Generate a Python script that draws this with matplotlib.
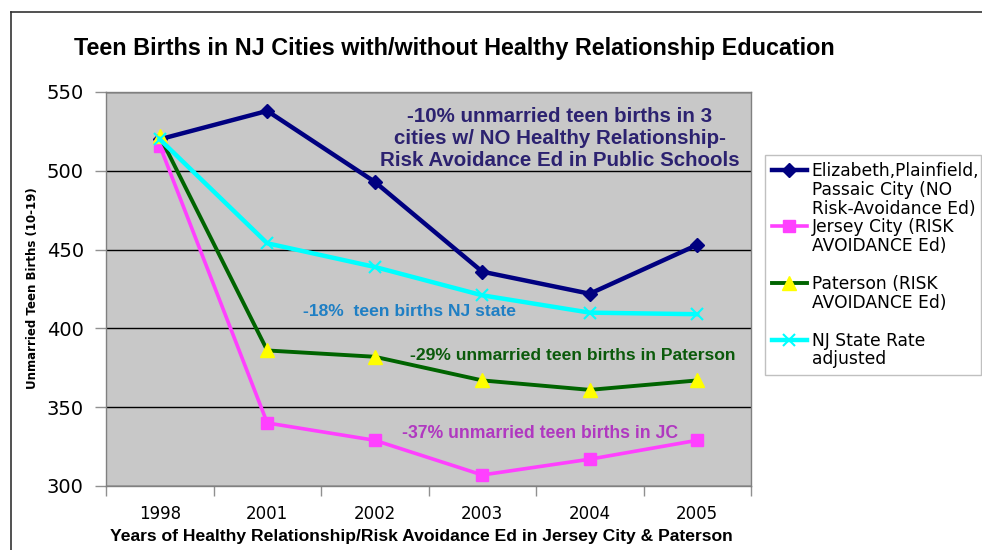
import matplotlib
matplotlib.use("Agg")
import matplotlib.pyplot as plt
from matplotlib.lines import Line2D
import numpy as np

years = ["1998", "2001", "2002", "2003", "2004", "2005"]
elizabeth = [520, 538, 493, 436, 422, 453]
jersey_city = [516, 340, 329, 307, 317, 329]
paterson = [522, 386, 382, 367, 361, 367]
nj_state = [520, 454, 439, 421, 410, 409]

yticks = [300, 350, 400, 450, 500, 550]

W, H = 982, 550
fig = plt.figure(figsize=(W / 100, H / 100), dpi=100)
ax = fig.add_axes([106 / W, 1 - 486 / H, (751 - 106) / W, (486 - 92) / H])
ax.set_facecolor("#C8C8C8")

x = np.arange(len(years))
l1, = ax.plot(x, elizabeth, color="#000080", lw=3.2, marker="D", ms=7,
              mfc="#000080", mec="#000080", zorder=3)
l2, = ax.plot(x, jersey_city, color="#FF40FF", lw=2.6, marker="s", ms=8,
              mfc="#FF40FF", mec="#FF40FF", zorder=3)
l3, = ax.plot(x, paterson, color="#006400", lw=2.8, marker="^", ms=9.5,
              mfc="#FFFF00", mec="#FFFF00", zorder=3)
l4, = ax.plot(x, nj_state, color="#00FFFF", lw=3.2, marker="x", ms=9,
              mew=1.5, mec="#00FFFF", zorder=3)

ax.set_xlim(-0.5, len(years) - 0.5)
ax.set_ylim(300, 550)
ax.set_yticks(yticks)
ax.set_yticklabels([str(v) for v in yticks], fontsize=14, family="DejaVu Sans")
ax.set_xticks(x)
ax.set_xticklabels(years, fontsize=12, family="DejaVu Sans")
ax.set_xticks(np.arange(-0.5, len(years)), minor=True)
ax.tick_params(axis="x", which="major", length=0, pad=14)
ax.tick_params(axis="x", which="minor", length=7, color="#909090", width=1)
ax.tick_params(axis="y", length=8, color="#909090", width=1, pad=8)
ax.grid(axis="y", color="#000000", lw=1, zorder=1)
ax.set_axisbelow(True)
for s in ax.spines.values():
    s.set_color("#808080")
    s.set_linewidth(1)

# annotations
ax.text(3.72, 520.5, "-10% unmarried teen births in 3\ncities w/ NO Healthy Relationship-\nRisk Avoidance Ed in Public Schools",
        ha="center", va="center", multialignment="center", fontsize=14.8,
        fontweight="bold", family="Liberation Sans", color="#2C2270", linespacing=1.2, zorder=5)
ax.text(1.33, 411, "-18%  teen births NJ state", ha="left", va="center", fontsize=12.6,
        fontweight="bold", family="Liberation Sans", color="#1F7FC4", zorder=5)
ax.text(2.33, 383, "-29% unmarried teen births in Paterson", ha="left", va="center", fontsize=12.6,
        fontweight="bold", family="Liberation Sans", color="#0B5A0B", zorder=5)
ax.text(2.25, 333, "-37% unmarried teen births in JC", ha="left", va="center", fontsize=12.7,
        fontweight="bold", family="Liberation Sans", color="#B038C0", zorder=5)

# title and axis labels
fig.text(74 / W, 1 - 48 / H, "Teen Births in NJ Cities with/without Healthy Relationship Education",
         ha="left", va="center", fontsize=16.8, fontweight="bold", family="Liberation Sans")
fig.text(421 / W, 1 - 536 / H, "Years of Healthy Relationship/Risk Avoidance Ed in Jersey City & Paterson",
         ha="center", va="center", fontsize=12.6, fontweight="bold", family="Liberation Sans")
fig.text(33 / W, 1 - 288 / H, "Unmarried Teen Births (10-19)", rotation=90,
         ha="center", va="center", fontsize=8.5, fontweight="bold", family="DejaVu Sans")

# legend
blank = Line2D([], [], linestyle="none")
handles = [l1, blank, blank, l2, blank, blank, l3, blank, blank, l4, blank]
labels = ["Elizabeth,Plainfield,", "Passaic City (NO", "Risk-Avoidance Ed)",
          "Jersey City (RISK", "AVOIDANCE Ed)", " ",
          "Paterson (RISK", "AVOIDANCE Ed)", " ",
          "NJ State Rate", "adjusted"]
leg = ax.legend(handles, labels, loc="upper left",
                bbox_to_anchor=(765 / W, 1 - 383 / H, 216 / W, 228 / H),
                bbox_transform=fig.transFigure, mode="expand", borderaxespad=0,
                prop={"family": "DejaVu Sans", "size": 12.3}, handlelength=2.05,
                handletextpad=0.28, borderpad=0.4, labelspacing=0.05,
                fancybox=False, framealpha=1, edgecolor="#C0C0C0", numpoints=1)
leg.get_frame().set_linewidth(1)

# outer frame
fig.add_artist(Line2D([11 / W, 11 / W], [0, 1 - 12 / H], transform=fig.transFigure, color="#333333", lw=1.2))
fig.add_artist(Line2D([11 / W, 1], [1 - 12 / H, 1 - 12 / H], transform=fig.transFigure, color="#333333", lw=1.2))

fig.savefig("out.png", dpi=100)
